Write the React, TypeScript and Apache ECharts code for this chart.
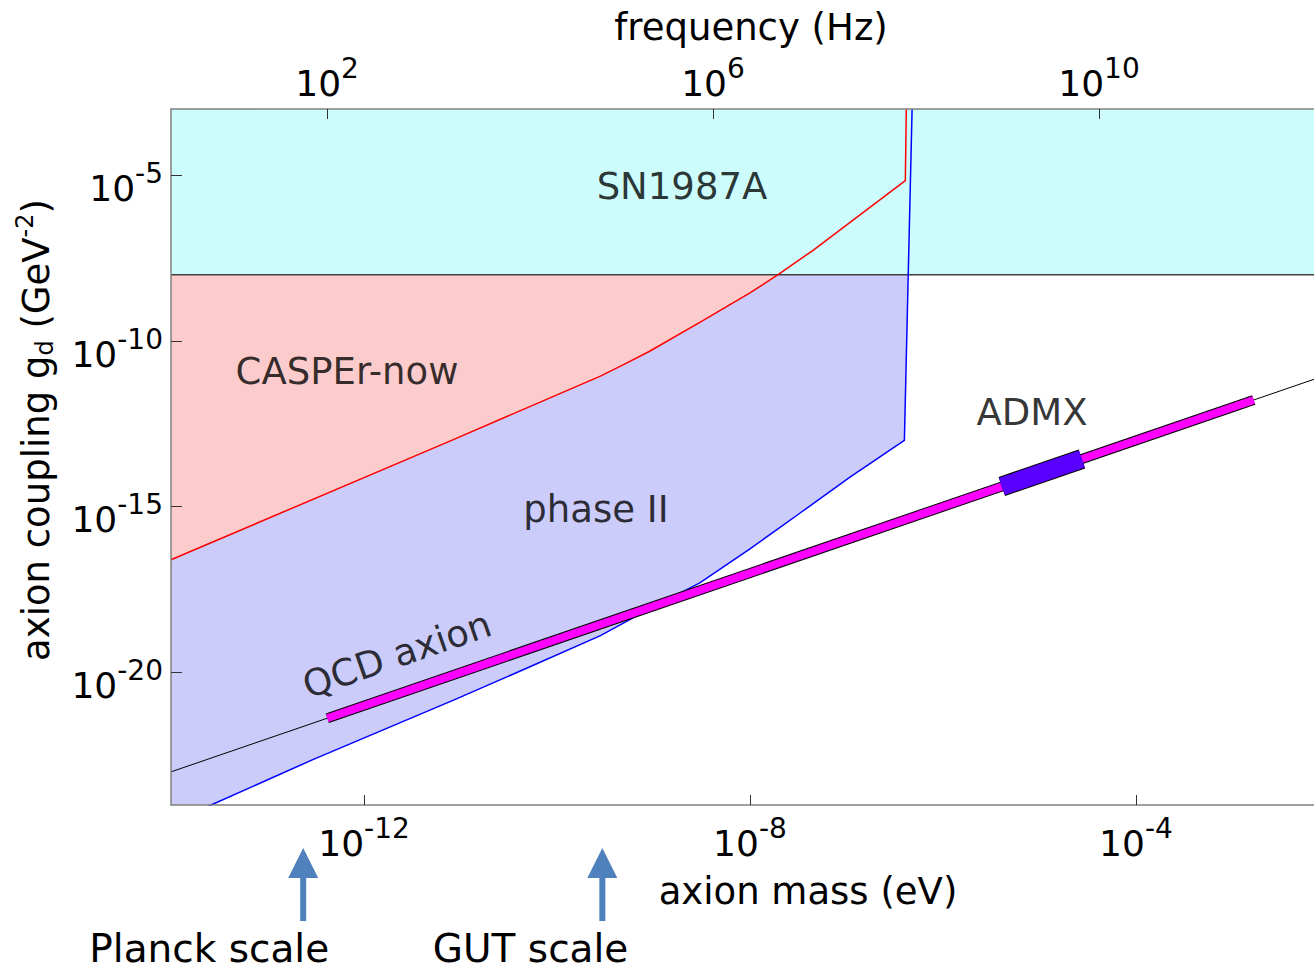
import React, { useEffect, useRef } from 'react';
import * as echarts from 'echarts';

const FONT = "'DejaVu Sans', Verdana, sans-serif";

// axis ranges (log10 units)
const massMin = -14;
const massMax = -2.155;
const couplingMin = -24;
const couplingMax = -3;
const massToFreqLog = 14.383; // log10(Hz per eV)

// tick positions (log10 values)
const massTicks = [-12, -8, -4];
const freqTicks = [2, 6, 10];
const couplingTicks = [-20, -15, -10, -5];

// SN1987A excluded above this coupling
const sn1987aLimit = -8;

// CASPEr-now boundary [log10 m, log10 g]
const casperNowEdge: number[][] = [
  [-14, -16.6], [-11.11, -13.02], [-9.55, -11.06], [-9.3, -10.7], [-9.04, -10.31], [-8.52, -9.44],
  [-8.0, -8.55], [-7.69, -7.96], [-7.35, -7.27], [-6.39, -5.16], [-6.38, -3.0],
];

// CASPEr phase II boundary
const phaseIIEdge: number[][] = [
  [-14, -24.52], [-13.585, -24.0], [-12.53, -22.63], [-11.06, -20.82], [-10.28, -19.83],
  [-9.55, -18.89], [-9.04, -18.08], [-8.52, -17.3], [-8.0, -16.27], [-7.48, -15.19],
  [-6.96, -14.1], [-6.4, -13.0], [-6.32, -3.0],
];

// QCD axion line and bands
const qcdAxionLine: number[][] = [[-14, -23], [-2.155, -11.155]];
const qcdAxionBand: number[][] = [[-12.38, -21.38], [-2.78, -11.78]];
const admxBand: number[][] = [[-5.39, -14.39], [-4.56, -13.56]];

const regionLabels = [
  { name: 'SN1987A', value: [-8.705, -5.34], rotate: 0 },
  { name: 'CASPEr-now', value: [-12.176, -10.91], rotate: 0 },
  { name: 'phase II', value: [-9.596, -15.08], rotate: 0 },
  { name: 'ADMX', value: [-5.078, -12.15], rotate: 0 },
  { name: 'QCD axion', value: [-11.658, -19.47], rotate: 19 },
];

const scaleMarkers = [
  { name: 'Planck scale', mass: -12.63 },
  { name: 'GUT scale', mass: -9.53 },
];

const tickRich = {
  b: { fontSize: 36, fontFamily: FONT, color: '#000', lineHeight: 47, verticalAlign: 'bottom' },
  s: { fontSize: 28, fontFamily: FONT, color: '#000', lineHeight: 28, verticalAlign: 'top' },
};
const tickFmt = (v: number) => `{b|10}{s|${v}}`;

export default function App() {
  const ref = useRef<HTMLDivElement>(null);
  useEffect(() => {
    if (!ref.current) return;
    const chart = echarts.init(ref.current, undefined, { renderer: 'svg' });
    const axisLine = { show: true, onZero: false, lineStyle: { color: '#808080', width: 1.5 } };
    const tickStyle = { color: '#333', width: 1 };
    const lineSeries = (data: number[][], color: string, width: number, z: number) => ({
      type: 'line', data, symbol: 'none', showSymbol: false, silent: true, z,
      lineStyle: { color, width, cap: 'butt', join: 'miter' },
    });
    const areaSeries = (data: number[][], color: string, z: number) => ({
      type: 'line', data, symbol: 'none', showSymbol: false, silent: true, z,
      lineStyle: { width: 0, opacity: 0 },
      areaStyle: { color, opacity: 1, origin: 'end' },
    });
    chart.setOption({
      animation: false,
      textStyle: { fontFamily: FONT },
      grid: { left: 171, top: 109, right: 0, bottom: 165, containLabel: false },
      xAxis: [
        {
          type: 'value', position: 'bottom', min: massMin, max: massMax, z: 10,
          axisLine,
          axisTick: { show: true, inside: true, length: 10, customValues: massTicks, lineStyle: tickStyle },
          axisLabel: { show: true, customValues: massTicks, margin: 9, formatter: tickFmt, rich: tickRich },
          splitLine: { show: false },
          name: 'axion mass (eV)', nameLocation: 'middle', nameGap: 68,
          nameTextStyle: { fontSize: 37, color: '#000', fontFamily: FONT, padding: [0, 0, 0, 131] },
        },
        {
          type: 'value', position: 'top', min: massMin + massToFreqLog, max: massMax + massToFreqLog, z: 10,
          axisLine,
          axisTick: { show: true, inside: true, length: 10, customValues: freqTicks, lineStyle: tickStyle },
          axisLabel: { show: true, customValues: freqTicks, margin: 8, formatter: tickFmt, rich: tickRich },
          splitLine: { show: false },
          name: 'frequency (Hz)', nameLocation: 'middle', nameGap: 63,
          nameTextStyle: { fontSize: 37, color: '#000', fontFamily: FONT, padding: [0, 0, 0, 17] },
        },
      ],
      yAxis: {
        type: 'value', position: 'left', min: couplingMin, max: couplingMax, z: 10,
        axisLine,
        axisTick: { show: true, inside: true, length: 11, customValues: couplingTicks, lineStyle: tickStyle },
        axisLabel: { show: true, customValues: couplingTicks, margin: 8, padding: [15, 0, 0, 0], formatter: tickFmt, rich: tickRich },
        splitLine: { show: false },
        name: '{t|axion coupling g}{sub|d}{t| (GeV}{sup|-2}{t|)}',
        nameLocation: 'middle', nameRotate: 90, nameGap: 110,
        nameTextStyle: {
          fontSize: 37, color: '#000', fontFamily: FONT, padding: [0, 0, 0, 54],
          rich: {
            t: { fontSize: 37, fontFamily: FONT, color: '#000', lineHeight: 48, verticalAlign: 'middle' },
            sub: { fontSize: 24, fontFamily: FONT, color: '#000', lineHeight: 24, verticalAlign: 'bottom', padding: [0, 0, 4, 0] },
            sup: { fontSize: 24, fontFamily: FONT, color: '#000', lineHeight: 24, verticalAlign: 'top' },
          },
        },
      },
      series: [
        areaSeries(phaseIIEdge, '#ccccfa', 1),
        areaSeries(casperNowEdge, '#fccccc', 2),
        {
          type: 'line', data: [[massMin, sn1987aLimit], [massMax, sn1987aLimit]], symbol: 'none', silent: true, z: 3,
          lineStyle: { color: '#404040', width: 1.5 },
          areaStyle: { color: '#ccfcfc', opacity: 1, origin: 'end' },
        },
        lineSeries(casperNowEdge, '#ff0000', 1.5, 4),
        lineSeries(phaseIIEdge, '#0000ff', 1.5, 4),
        lineSeries(qcdAxionLine, '#000000', 1, 5),
        lineSeries(qcdAxionBand, '#000000', 10, 6),
        lineSeries(qcdAxionBand, '#ff00ff', 8, 7),
        lineSeries(admxBand, '#000000', 20, 8),
        lineSeries(admxBand, '#5a00ff', 18, 9),
        {
          type: 'scatter', silent: true, z: 10, symbolSize: 1,
          itemStyle: { color: 'rgba(0,0,0,0)' },
          label: { show: true, position: 'inside', formatter: '{b}', fontSize: 37, color: '#000', fontFamily: FONT },
          data: regionLabels.map((l) => ({ name: l.name, value: l.value, label: { rotate: l.rotate } })),
        },
      ],
    });

    const graphics: any[] = [];
    scaleMarkers.forEach((m) => {
      const x = chart.convertToPixel({ xAxisIndex: 0 }, m.mass) as number;
      graphics.push({
        type: 'polygon',
        shape: { points: [[x, 848], [x + 15, 878], [x + 3, 878], [x + 3, 921], [x - 3, 921], [x - 3, 878], [x - 15, 878]] },
        style: { fill: '#4f81bd' },
        silent: true,
      });
      graphics.push({
        type: 'text', x: x + 26, y: 948, silent: true,
        style: {
          text: m.name, fontSize: 39, fontFamily: FONT, fill: '#000',
          align: 'right', verticalAlign: 'middle', textAlign: 'right', textVerticalAlign: 'middle',
        },
      });
    });
    chart.setOption({ graphic: graphics });

    return () => chart.dispose();
  }, []);
  return <div ref={ref} style={{ position: 'absolute', left: 0, top: 0, width: 1314, height: 970 }} />;
}
